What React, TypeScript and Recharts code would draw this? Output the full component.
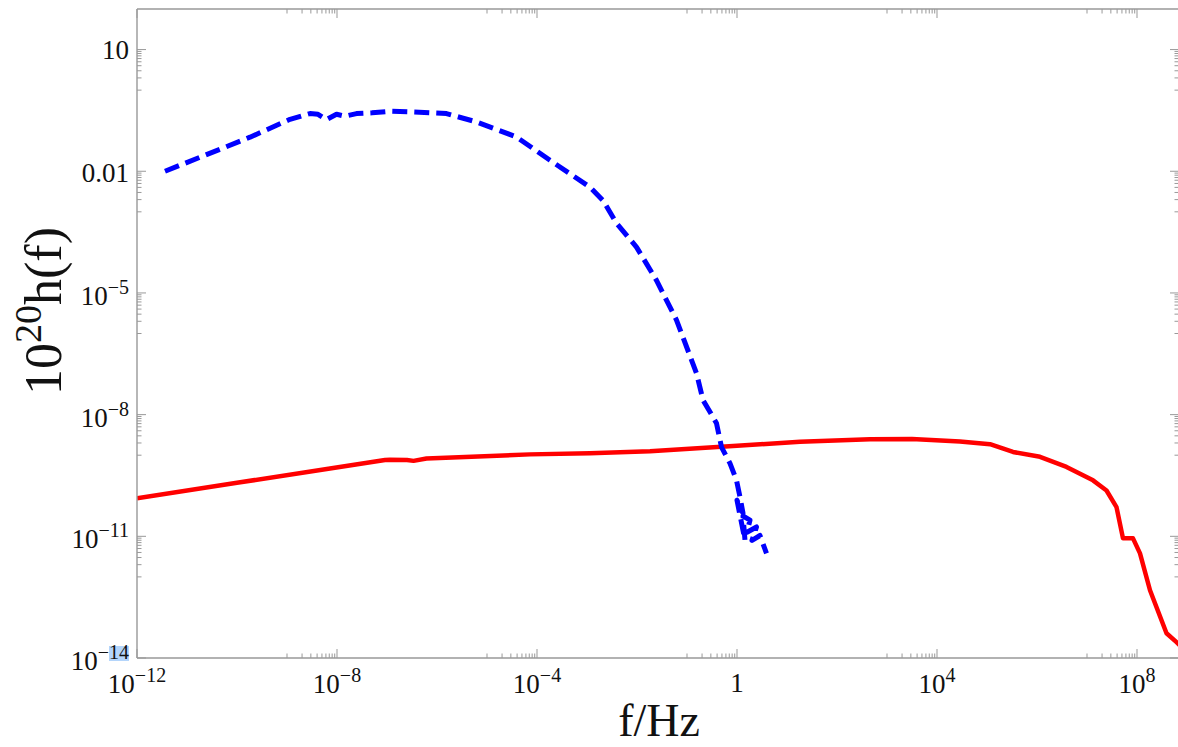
import React from 'react';
import { LineChart, Line, XAxis, YAxis } from 'recharts';

const CHART_W = 1200;
const CHART_H = 747;
const PLOT_L = 137;
const PLOT_T = 9;
const PLOT_R = 1179;
const PLOT_B = 658;
const FRAME = '#999999';
const FONT = '"Liberation Serif", "Times New Roman", serif';

const X_MAJOR_EXP = [-12, -8, -4, 0, 4, 8];
const Y_MAJOR_EXP = [1, -2, -5, -8, -11, -14];
const X_DOMAIN = [1e-12, Math.pow(10, 8.84)];
const Y_DOMAIN = [1e-14, 1e2];

// blue dashed curve: log10(f), log10(10^20 h)
const blueLogF = [-11.44, -10.74, -9.74, -8.94, -8.54, -8.38, -8.21, -8.01, -7.84, -7.61, -7.3, -6.94, -6.48, -5.81, -5.21, -4.41, -3.74, -2.94, -2.68, -2.41, -2.01, -1.61, -1.21, -0.81, -0.68, -0.41, -0.31, -0.14, -0.01, 0.06, 0.12, 0.0, 0.16, 0.12, 0.26, 0.2, 0.39, 0.3, 0.46, 0.59];
const blueLogH = [-2.0, -1.655, -1.16, -0.72, -0.577, -0.595, -0.726, -0.595, -0.644, -0.578, -0.56, -0.521, -0.538, -0.578, -0.785, -1.155, -1.73, -2.39, -2.72, -3.28, -3.87, -4.69, -5.67, -6.98, -7.64, -8.21, -8.8, -9.2, -9.62, -10.03, -10.43, -10.11, -11.1, -10.5, -10.6, -10.9, -10.77, -11.1, -10.98, -11.42];

// red solid curve
const redLogF = [-12, -10, -8.14, -7.04, -6.94, -6.6, -6.47, -6.21, -4.14, -2.94, -1.74, 0, 1.26, 2.66, 3.5, 4.46, 5.06, 5.52, 6.06, 6.59, 7.12, 7.39, 7.59, 7.72, 7.92, 8.06, 8.26, 8.59, 8.79, 8.96];
const redLogH = [-10.06, -9.68, -9.33, -9.12, -9.11, -9.12, -9.14, -9.08, -8.98, -8.95, -8.9, -8.77, -8.67, -8.61, -8.6, -8.66, -8.73, -8.92, -9.04, -9.29, -9.62, -9.87, -10.28, -11.05, -11.05, -11.42, -12.33, -13.39, -13.61, -13.81];

const blueData = blueLogF.map((lf, i) => ({ f: Math.pow(10, lf), h: Math.pow(10, blueLogH[i]) }));
const redData = redLogF.map((lf, i) => ({ f: Math.pow(10, lf), h: Math.pow(10, redLogH[i]) }));

function buildTicks(majors: number[]) {
  const lowest = Math.min(...majors);
  const t: number[] = [];
  majors.forEach((k) => {
    t.push(Math.pow(10, k));
    if (k > lowest) for (let j = 1; j <= 9; j++) t.push(j * Math.pow(10, k - 1));
  });
  return t.sort((a, b) => a - b);
}
const xTicks = buildTicks(X_MAJOR_EXP);
const yTicks = buildTicks(Y_MAJOR_EXP);

function majorExp(v: number, majors: number[]): number | null {
  const l = Math.log10(v);
  const e = Math.round(l);
  if (Math.abs(l - e) < 1e-6 && majors.includes(e)) return e;
  return null;
}

function PowLabel({ x, y, exp, anchor, highlight }: any) {
  const common = { fontFamily: FONT, fontSize: 27, fill: '#111', textAnchor: anchor };
  if (exp === 0) return <text x={x} y={y - 1} {...common}>1</text>;
  if (exp === 1) return <text x={x} y={y - 3} {...common}>10</text>;
  if (exp === -2) return <text x={x} y={y - 1} {...common}>0.01</text>;
  const sup = exp < 0 ? '\u2212' + String(-exp) : String(exp);
  return (
    <g>
      {highlight && <rect x={x - 20} y={y - 24} width={20} height={15} fill="#b4d5fb" />}
      <text x={x} y={y} {...common}>
        <tspan>10</tspan>
        <tspan dy={-11} fontSize={20}>{sup}</tspan>
      </text>
    </g>
  );
}

const XTickBottom = (p: any) => {
  const x = p.x;
  const e = majorExp(p.payload.value, X_MAJOR_EXP);
  const len = e !== null ? 9 : 4.5;
  return (
    <g>
      <line x1={x} x2={x} y1={PLOT_B} y2={PLOT_B - len} stroke={FRAME} strokeWidth={1} />
      {e !== null && <PowLabel x={x} y={PLOT_B + 35} exp={e} anchor="middle" />}
    </g>
  );
};

const XTickTop = (p: any) => {
  const x = p.x;
  const e = majorExp(p.payload.value, X_MAJOR_EXP);
  const len = e !== null ? 9 : 4.5;
  return <line x1={x} x2={x} y1={PLOT_T} y2={PLOT_T + len} stroke={FRAME} strokeWidth={1} />;
};

const YTickLeft = (p: any) => {
  const y = p.y;
  const e = majorExp(p.payload.value, Y_MAJOR_EXP);
  const len = e !== null ? 9 : 4.5;
  return (
    <g>
      <line x1={PLOT_L} x2={PLOT_L + len} y1={y} y2={y} stroke={FRAME} strokeWidth={1} />
      {e !== null && <PowLabel x={PLOT_L - 8} y={y + 12} exp={e} anchor="end" highlight={e === -14} />}
    </g>
  );
};

const YTickRight = (p: any) => {
  const y = p.y;
  const e = majorExp(p.payload.value, Y_MAJOR_EXP);
  const len = e !== null ? 9 : 4.5;
  return <line x1={PLOT_R} x2={PLOT_R - len} y1={y} y2={y} stroke={FRAME} strokeWidth={1} />;
};

const XTitle = () => (
  <text x={659} y={736} textAnchor="middle" fontFamily={FONT} fontSize={46} fill="#111">f/Hz</text>
);

const YTitle = () => (
  <text x={61} y={311} transform="rotate(-90 61 311)" textAnchor="middle" fontFamily={FONT} fontSize={52} fill="#111">
    <tspan>10</tspan>
    <tspan dy={-20} fontSize={38}>20</tspan>
    <tspan dy={20}>h(f)</tspan>
  </text>
);

export default function App() {
  return (
    <div style={{ position: 'absolute', left: 0, top: 0, width: 1178, height: 747, overflow: 'hidden', background: '#fff' }}>
      <LineChart
        width={CHART_W}
        height={CHART_H}
        margin={{ top: 0, left: 0, right: 0, bottom: 0 }}
      >
        <XAxis
          xAxisId="b"
          orientation="bottom"
          type="number"
          scale="log"
          dataKey="f"
          domain={X_DOMAIN}
          allowDataOverflow
          ticks={xTicks}
          interval={0}
          height={CHART_H - PLOT_B}
          tickLine={false}
          tick={(p: any) => <XTickBottom {...p} />}
          axisLine={{ stroke: FRAME, strokeWidth: 1.4 }}
          label={<XTitle />}
        />
        <XAxis
          xAxisId="t"
          orientation="top"
          type="number"
          scale="log"
          dataKey="f"
          domain={X_DOMAIN}
          allowDataOverflow
          ticks={xTicks}
          interval={0}
          height={PLOT_T}
          tickLine={false}
          tick={(p: any) => <XTickTop {...p} />}
          axisLine={{ stroke: FRAME, strokeWidth: 1.4 }}
        />
        <YAxis
          yAxisId="l"
          orientation="left"
          type="number"
          scale="log"
          dataKey="h"
          domain={Y_DOMAIN}
          allowDataOverflow
          ticks={yTicks}
          interval={0}
          width={PLOT_L}
          tickLine={false}
          tick={(p: any) => <YTickLeft {...p} />}
          axisLine={{ stroke: FRAME, strokeWidth: 1.4 }}
          label={<YTitle />}
        />
        <YAxis
          yAxisId="r"
          orientation="right"
          type="number"
          scale="log"
          dataKey="h"
          domain={Y_DOMAIN}
          allowDataOverflow
          ticks={yTicks}
          interval={0}
          width={CHART_W - PLOT_R}
          tickLine={false}
          tick={(p: any) => <YTickRight {...p} />}
          axisLine={{ stroke: FRAME, strokeWidth: 1.4 }}
        />
        <Line
          xAxisId="b"
          yAxisId="l"
          data={redData}
          dataKey="h"
          type="linear"
          stroke="#ff0000"
          strokeWidth={4.5}
          dot={false}
          strokeLinejoin="round"
          isAnimationActive={false}
        />
        <Line
          xAxisId="b"
          yAxisId="l"
          data={blueData}
          dataKey="h"
          type="linear"
          stroke="#0000ff"
          strokeWidth={5}
          strokeDasharray="15 7"
          dot={false}
          strokeLinejoin="round"
          isAnimationActive={false}
        />
      </LineChart>
    </div>
  );
}
